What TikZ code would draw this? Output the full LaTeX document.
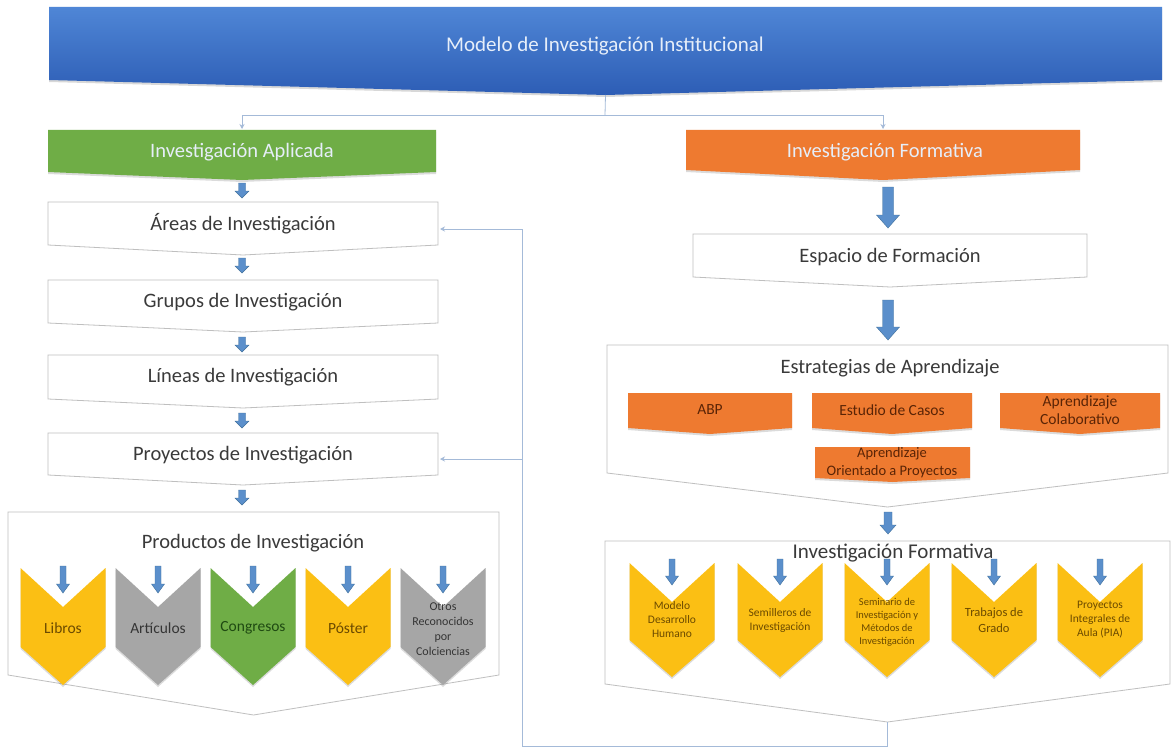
\documentclass[tikz,border=0pt]{standalone}
\usepackage{fontspec}
\setmainfont{Carlito}
\usetikzlibrary{shadows,arrows.meta,calc}
\definecolor{bannerTop}{HTML}{4F86D6}
\definecolor{bannerBot}{HTML}{2D5DB5}
\definecolor{greenA}{HTML}{6FAD46}
\definecolor{orangeA}{HTML}{EE7A30}
\definecolor{goldA}{HTML}{FBBF14}
\definecolor{grayA}{HTML}{A6A6A6}
\definecolor{arrowB}{HTML}{5B8FCB}
\definecolor{arrowBd}{HTML}{41719C}
\definecolor{lineC}{HTML}{A4BAD8}
\definecolor{boxL}{HTML}{BFBFBF}
\definecolor{txtD}{HTML}{3A3A3A}
\definecolor{txtL}{HTML}{E6EEF9}
\definecolor{brownT}{HTML}{6B4A00}
\definecolor{grayT}{HTML}{353535}
\definecolor{greenT}{HTML}{1F4A12}
\definecolor{orangeT}{HTML}{5A2406}

\newcommand{\pentbox}[7]{% name, xl, xr, ytop, yside, ytip, style
  \path[#7] (#2,#4) -- (#3,#4) -- (#3,#5) -- ({(#2+#3)/2},#6) -- (#2,#5) -- cycle;
  \coordinate (#1-tip) at ({(#2+#3)/2},#6);
  \coordinate (#1-top) at ({(#2+#3)/2},#4);
}
\newcommand{\chev}[8]{% name, cx, ytop, ynotch, yside, ytip, halfwidth, style
  \path[#8] ({#2-#7},#3) -- (#2,#4) -- ({#2+#7},#3) -- ({#2+#7},#5) -- (#2,#6) -- ({#2-#7},#5) -- cycle;
  \coordinate (#1-notch) at (#2,#4);
}
\newcommand{\barr}[6]{% cx, y1, y2, shaft half, head half, head length
  \path[blockarrow] ({#1-#4},#2) -- ({#1+#4},#2) -- ({#1+#4},{#3-#6}) -- ({#1+#5},{#3-#6})
    -- (#1,#3) -- ({#1-#5},{#3-#6}) -- ({#1-#4},{#3-#6}) -- cycle;
}

\begin{document}
\begin{tikzpicture}[x=1pt,y=-1pt,
  whitebox/.style={fill=white, draw=boxL, line width=0.8pt},
  colbox/.style={fill=#1, drop shadow={opacity=0.28, shadow xshift=0pt, shadow yshift=-2pt}},
  blockarrow/.style={fill=arrowB, draw=arrowBd, line width=0.4pt},
  conn/.style={draw=lineC, line width=0.8pt},
  conna/.style={conn, -{Stealth[length=5pt,width=5pt]}},
  lbl/.style={font=\fontsize{20.5}{24}\selectfont, text=txtD, inner sep=0pt},
  hdr/.style={font=\fontsize{20.5}{24}\selectfont, text=txtL, inner sep=0pt},
  chl/.style={font=\fontsize{15.5}{18}\selectfont, inner sep=0pt, align=center},
  chs/.style={font=\fontsize{11.5}{14}\selectfont, inner sep=0pt, align=center},
  stl/.style={font=\fontsize{15.5}{18}\selectfont, text=orangeT, inner sep=0pt, align=center},
]
\useasboundingbox (0,0) rectangle (1172,749);
\fill[white] (0,0) rectangle (1172,749);

% ---------- banner ----------
\pentbox{banner}{49}{1162}{7}{80}{95}{top color=bannerTop, bottom color=bannerBot, drop shadow={opacity=0.3,shadow xshift=0pt,shadow yshift=-2pt}}
\node[hdr, font=\fontsize{21}{24}\selectfont] (bannertxt) at (605,46) {Modelo de Investigación Institucional};

% ---------- level 2 ----------
\pentbox{green}{48}{436}{130}{172}{180}{colbox=greenA}
\node[hdr] (greentxt) at (242,152) {Investigación Aplicada};
\pentbox{orange}{686}{1080}{130}{170}{180}{colbox=orangeA}
\node[hdr] (orangetxt) at (885,152) {Investigación Formativa};

\coordinate (split) at (605,115);
\draw[conn] (banner-tip) -- (split);
\draw[conna] (split) -| ($(green-top)+(0,-1)$);
\draw[conna] (split) -| ($(orange-top)+(0,-1)$);

% ---------- left column ----------
\barr{242}{183}{198}{3.5}{7}{7}
\pentbox{areas}{48}{438}{202}{245}{255}{whitebox}
\node[lbl] (areastxt) at (243,224) {Áreas de Investigación};
\barr{242}{258}{273}{3.5}{7}{7}
\pentbox{grupos}{48}{438}{280}{323}{332}{whitebox}
\node[lbl] (grupostxt) at (243,302) {Grupos de Investigación};
\barr{242}{337}{352}{3.5}{7}{7}
\pentbox{lineas}{48}{438}{355}{399}{408}{whitebox}
\node[lbl] (lineastxt) at (243,377) {Líneas de Investigación};
\barr{242}{413}{428}{3.5}{7}{7}
\pentbox{proy}{48}{438}{433}{475}{485}{whitebox}
\node[lbl] (proytxt) at (243,455) {Proyectos de Investigación};
\barr{242}{490}{505}{3.5}{7}{7}
\pentbox{prod}{8}{499}{512}{675}{715}{whitebox}
\node[lbl] (prodtxt) at (253,543) {Productos de Investigación};

% product chevrons
\chev{c1}{63}{568}{607}{647}{685}{42.5}{colbox=goldA}
\chev{c2}{158}{568}{607}{647}{685}{42.5}{colbox=grayA}
\chev{c3}{253}{568}{607}{647}{685}{42.5}{colbox=greenA}
\chev{c4}{348}{568}{607}{647}{685}{42.5}{colbox=goldA}
\chev{c5}{443}{568}{607}{647}{685}{42.5}{colbox=grayA}
\foreach \cx in {63,158,253,348,443} {\barr{\cx}{566}{593}{3}{6.5}{9}}
\node[chl, text=brownT] (libros) at (63,628) {Libros};
\node[chl, text=grayT] (articulos) at (158,628) {Artículos};
\node[chl, text=greenT] (congresos) at (253,628) {Congresos};
\node[chl, text=brownT] (poster) at (348,628) {Póster};
\node[chs, text=grayT, font=\fontsize{12}{15}\selectfont] (otros) at (443,629) {Otros\\Reconocidos\\por\\Colciencias};

% ---------- right column ----------
\barr{888}{187}{228}{5.5}{11.5}{13}
\pentbox{espacio}{693}{1087}{234}{277}{287}{whitebox}
\node[lbl] (espaciotxt) at (890,257) {Espacio de Formación};
\barr{888}{300}{340}{5.5}{11.5}{13}
\pentbox{estr}{607}{1168}{345}{473}{507}{whitebox}
\node[lbl] (estrtxt) at (890,368) {Estrategias de Aprendizaje};

\pentbox{abp}{628}{792}{393}{428}{434}{colbox=orangeA}
\node[stl] (abptxt) at (710,410) {ABP};
\pentbox{casos}{812}{972}{393}{428}{434}{colbox=orangeA}
\node[stl] (casostxt) at (892,410) {Estudio de Casos};
\pentbox{colab}{1000}{1160}{393}{428}{434}{colbox=orangeA}
\node[stl] (colabtxt) at (1080,410) {Aprendizaje\\Colaborativo};
\pentbox{orient}{815}{970}{447}{478}{482}{colbox=orangeA}
\node[stl, font=\fontsize{14.5}{18}\selectfont] (orienttxt) at (892,463) {Aprendizaje\\Orientado a Proyectos};

\barr{888}{512}{534}{4}{8}{9}
\pentbox{invf}{605}{1170}{541}{684}{722}{whitebox}
\node[lbl, font=\fontsize{21}{24}\selectfont] (invftxt) at (893,553) {Investigación Formativa};

\foreach \n/\cx in {d1/672,d2/780,d3/887,d4/994,d5/1100} {
  \chev{\n}{\cx}{563}{602}{640}{677}{42.5}{colbox=goldA}
  \barr{\cx}{559}{585}{3}{6.5}{9}
}
\node[chs, text=brownT] (modelo) at (672,620) {Modelo\\Desarrollo\\Humano};
\node[chs, text=brownT] (semill) at (780,620) {Semilleros de\\Investigación};
\node[chs, text=brownT, font=\fontsize{10.5}{13}\selectfont] (semin) at (887,622) {Seminario de\\Investigación y\\Métodos de\\Investigación};
\node[chs, text=brownT, font=\fontsize{12.5}{16}\selectfont] (trab) at (994,620) {Trabajos de\\Grado};
\node[chs, text=brownT] (pia) at (1100,620) {Proyectos\\Integrales de\\Aula (PIA)};

% ---------- feedback connector ----------
\coordinate (fbc) at (522,746);
\coordinate (areasin) at (440,229);
\coordinate (proyin) at (440,459);
\draw[conna] (invf-tip) |- (fbc) |- (areasin);
\draw[conna] (fbc |- proyin) -- (proyin);
\end{tikzpicture}
\end{document}
